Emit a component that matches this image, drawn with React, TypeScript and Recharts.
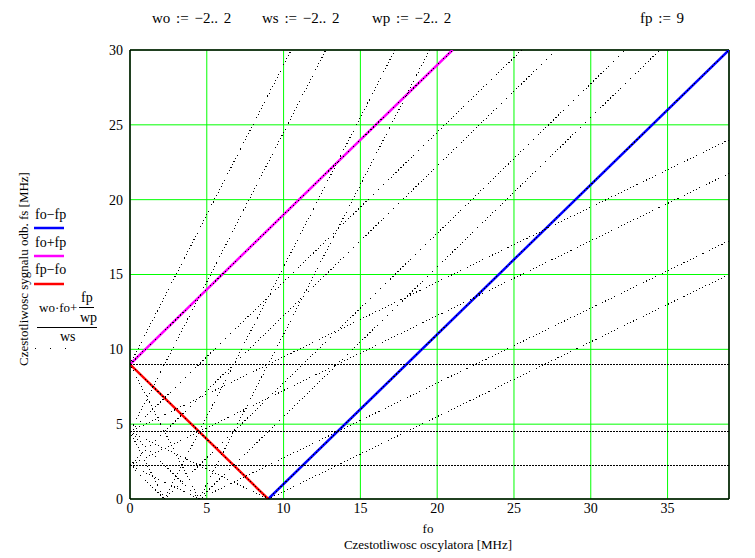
import React from 'react';
import {LineChart, Line, XAxis, YAxis, CartesianGrid, ReferenceLine} from 'recharts';

// fo ticks / fs ticks
const xTicks = [0, 5, 10, 15, 20, 25, 30, 35];
const yTicks = [0, 5, 10, 15, 20, 25, 30];

// coloured traces: [fo start, fs start, fo end, fs end]
const foMinusFp = [9, 0, 39, 30];
const foPlusFp = [0, 9, 21, 30];
const fpMinusFo = [0, 9, 9, 0];

// black dotted traces (wo*fo + fp/wp)/ws, endpoints
const dottedSegments: number[][] = [
    [0, 9, 10.5, 30], [0, 4.5, 12.75, 30], [2.25, 0, 17.25, 30], [4.5, 0, 19.5, 30],
    [0, 9, 21, 30], [0, 4.5, 25.5, 30], [0, 2.25, 27.75, 30], [2.25, 0, 32.25, 30], [4.5, 0, 34.5, 30], [9, 0, 39, 30],
    [0, 4.5, 39, 24], [0, 2.25, 39, 21.75], [4.5, 0, 39, 17.25], [9, 0, 39, 15],
    [0, 9, 9, 0], [0, 4.5, 4.5, 0], [0, 9, 4.5, 0], [0, 4.5, 2.25, 0], [0, 4.5, 9, 0], [0, 2.25, 4.5, 0], [0, 2.25, 2.25, 0],
];
// horizontal dotted traces (wo = 0)
const flatSegments: number[][] = [
    [0, 9, 39, 9], [0, 4.5, 39, 4.5], [0, 2.25, 39, 2.25],
];

const toPoints = (s: number[]) => [{x: s[0], y: s[1]}, {x: s[2], y: s[3]}];

const font = '"Liberation Serif", "Times New Roman", serif';
const tickStyle = {fontSize: 14, fill: '#000', fontFamily: font};

const App = () => {
    return (
        <div style={{position: 'absolute', left: 0, top: 0, width: 755, height: 558, background: '#fff'}}>
            <LineChart width={755} height={558} margin={{top: 50, right: 26, bottom: 29, left: 100}}>
                <CartesianGrid stroke="#00ff00" strokeWidth={1} />
                <XAxis dataKey="x" type="number" domain={[0, 39]} ticks={xTicks} allowDataOverflow
                       height={30} tickSize={0} tickMargin={4} tickLine={false}
                       axisLine={{stroke: '#000', strokeWidth: 1.5}} tick={tickStyle} />
                <YAxis type="number" domain={[0, 30]} ticks={yTicks} allowDataOverflow
                       width={30} tickSize={0} tickMargin={7} tickLine={false}
                       axisLine={{stroke: '#000', strokeWidth: 1.5}} tick={tickStyle} />
                <ReferenceLine x={39} stroke="#000" strokeWidth={1.5} />
                <ReferenceLine y={30} stroke="#000" strokeWidth={1.5} />
                <Line data={toPoints(foMinusFp)} dataKey="y" stroke="#0000ff" strokeWidth={2.5} dot={false} isAnimationActive={false} />
                <Line data={toPoints(foPlusFp)} dataKey="y" stroke="#ff00ff" strokeWidth={2.5} dot={false} isAnimationActive={false} />
                <Line data={toPoints(fpMinusFo)} dataKey="y" stroke="#ff0000" strokeWidth={2.5} dot={false} isAnimationActive={false} />
                {dottedSegments.map((s, i) => (
                    <Line key={`dot-${i}`} data={toPoints(s)} dataKey="y" stroke="#000" strokeWidth={1}
                          strokeDasharray="1 2.5" shapeRendering="crispEdges" dot={false} isAnimationActive={false} />
                ))}
                {flatSegments.map((s, i) => (
                    <Line key={`flat-${i}`} data={toPoints(s)} dataKey="y" stroke="#000" strokeWidth={1}
                          strokeDasharray="2 1" shapeRendering="crispEdges" dot={false} isAnimationActive={false} />
                ))}
            </LineChart>
            <svg width={755} height={558} style={{position: 'absolute', left: 0, top: 0, pointerEvents: 'none'}}
                 fontFamily={font} fill="#000">
                <text x={152} y={23} fontSize={15} wordSpacing={2}>wo := −2.. 2</text>
                <text x={262} y={23} fontSize={15} wordSpacing={2}>ws := −2.. 2</text>
                <text x={372} y={23} fontSize={15} wordSpacing={2}>wp := −2.. 2</text>
                <text x={640} y={23} fontSize={15} wordSpacing={2}>fp := 9</text>

                <text x={35} y={219} fontSize={14}>fo−fp</text>
                <line x1={34} y1={228} x2={64} y2={228} stroke="#0000ff" strokeWidth={2.5} />
                <text x={35} y={247} fontSize={14}>fo+fp</text>
                <line x1={34} y1={256} x2={64} y2={256} stroke="#ff00ff" strokeWidth={2.5} />
                <text x={35} y={274} fontSize={14}>fp−fo</text>
                <line x1={34} y1={284} x2={64} y2={284} stroke="#ff0000" strokeWidth={2.5} />

                <text x={81} y={302} fontSize={14}>fp</text>
                <line x1={79} y1={307.5} x2={94} y2={307.5} stroke="#000" strokeWidth={1} />
                <text x={39} y={312} fontSize={13}>wo·fo+</text>
                <text x={80} y={322} fontSize={14}>wp</text>
                <line x1={37} y1={327.5} x2={97} y2={327.5} stroke="#000" strokeWidth={1} />
                <text x={60} y={341} fontSize={14}>ws</text>
                <line x1={35} y1={348.5} x2={66} y2={348.5} stroke="#000" strokeWidth={1} strokeDasharray="1 14" />

                <text transform="translate(28,269) rotate(-90)" textAnchor="middle" fontSize={13}>
                    Czestotliwosc sygnalu odb. fs [MHz]
                </text>
                <text x={428} y={533} textAnchor="middle" fontSize={13}>fo</text>
                <text x={428} y={549} textAnchor="middle" fontSize={13}>Czestotliwosc oscylatora [MHz]</text>
            </svg>
        </div>
    );
};

export default App;
